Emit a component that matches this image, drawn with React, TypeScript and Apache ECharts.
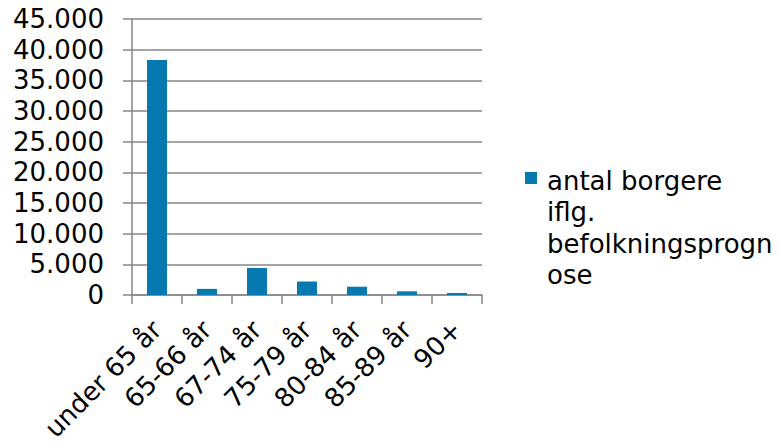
import React, { useEffect, useRef } from "react";
import * as echarts from "echarts";

// Age groups and number of citizens per the population forecast
const categories = ["under 65 år", "65-66 år", "67-74 år", "75-79 år", "80-84 år", "85-89 år", "90+"];
const citizens = [38300, 1000, 4400, 2200, 1350, 600, 330];
const seriesName = "antal borgere iflg. befolkningsprognose";
// The legend entry wraps onto four lines
const legendLines = ["antal borgere", "iflg.", "befolkningsprogn", "ose"];

const FONT = 'Verdana, "DejaVu Sans", sans-serif';
const FONT_SIZE = 26;
const GRAY = "#868686";
const BLUE = "#0779b1";

const formatThousands = (v: number) =>
  String(v).replace(/\B(?=(\d{3})+(?!\d))/g, ".");

export default function App() {
  const ref = useRef<HTMLDivElement>(null);

  useEffect(() => {
    if (!ref.current) return;
    const chart = echarts.init(ref.current, undefined, { renderer: "svg" });
    chart.setOption({
      animation: false,
      textStyle: { fontFamily: FONT },
      grid: {
        left: 132,
        right: 298,
        top: 19,
        bottom: 150,
        containLabel: false,
        outerBoundsMode: "none",
      },
      legend: { show: false, data: [seriesName] },
      graphic: [
        {
          type: "rect",
          left: 525,
          top: 172,
          shape: { width: 12, height: 12 },
          style: { fill: BLUE },
        },
        {
          type: "text",
          left: 547,
          top: 165,
          style: {
            text: legendLines.join("\n"),
            fontFamily: FONT,
            fontSize: FONT_SIZE,
            lineHeight: 31.5,
            fill: "#000",
          },
        },
      ],
      xAxis: {
        type: "category",
        data: categories,
        axisLine: { lineStyle: { color: GRAY, width: 1.5 } },
        axisTick: { show: true, length: 9, lineStyle: { color: GRAY, width: 1.5 } },
        axisLabel: {
          rotate: 45,
          interval: 0,
          margin: 30,
          fontSize: FONT_SIZE,
          fontFamily: FONT,
          color: "#000",
        },
      },
      yAxis: {
        type: "value",
        min: 0,
        max: 45000,
        interval: 5000,
        axisLine: { show: true, lineStyle: { color: GRAY, width: 1.5 } },
        axisTick: { show: true, length: 9, lineStyle: { color: GRAY, width: 1.5 } },
        splitLine: { lineStyle: { color: GRAY, width: 1.5 } },
        axisLabel: {
          margin: 28,
          fontSize: FONT_SIZE,
          fontFamily: FONT,
          color: "#000",
          formatter: (v: number) => formatThousands(v),
        },
      },
      series: [
        {
          name: seriesName,
          type: "bar",
          data: citizens,
          barWidth: 20,
          itemStyle: { color: BLUE },
        },
      ],
    });
    return () => chart.dispose();
  }, []);

  return (
    <div
      ref={ref}
      style={{ position: "absolute", left: 0, top: 0, width: 780, height: 445 }}
    />
  );
}
